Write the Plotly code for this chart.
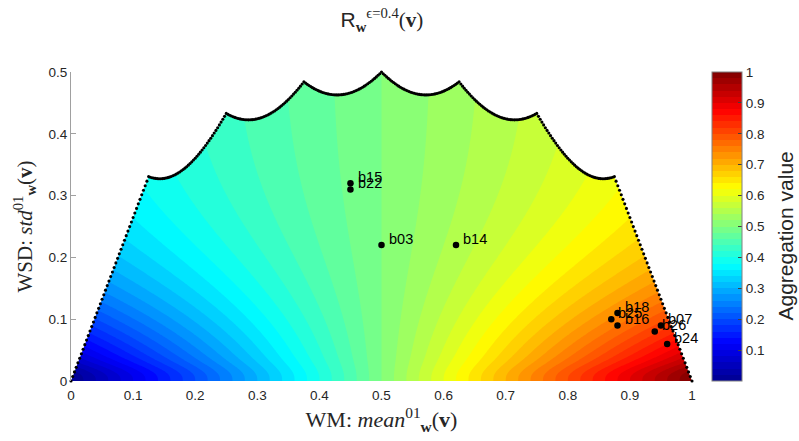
import numpy as np
import plotly.graph_objects as go

# ---------------- data ----------------
point_names = ["b15", "b22", "b03", "b14", "b18", "b25", "b16", "b07", "b26", "b24"]
point_wm = [0.45, 0.45, 0.50, 0.62, 0.88, 0.87, 0.88, 0.95, 0.94, 0.96]
point_wsd = [0.32, 0.31, 0.22, 0.22, 0.11, 0.10, 0.09, 0.09, 0.08, 0.06]

x_ticks = [0, 0.1, 0.2, 0.3, 0.4, 0.5, 0.6, 0.7, 0.8, 0.9, 1]
y_ticks = [0, 0.1, 0.2, 0.3, 0.4, 0.5]
cbar_ticks = [0.1, 0.2, 0.3, 0.4, 0.5, 0.6, 0.7, 0.8, 0.9, 1]

N_CRITERIA = 8          # equal weights -> cusps of the feasible (mean, std) region
PULL_MAX = 0.75         # maximal pull of the value towards 0.5
PULL_SCALE = 0.2        # std at which the pull approaches its maximum
DAMP_STD = 0.02         # smooth start of the pull near std = 0
PTS_PER_SEGMENT = 46    # boundary samples per segment

JET = [[0.0, "#00008f"], [0.125, "#0000ff"], [0.375, "#00ffff"],
       [0.625, "#ffff00"], [0.875, "#ff0000"], [1.0, "#800000"]]

# ---------------- feasible-region boundary ----------------
bx, by = [], []
t = np.linspace(0, 1, PTS_PER_SEGMENT)
for k in range(N_CRITERIA):
    m = (k + t) / N_CRITERIA
    var = (k + t ** 2) / N_CRITERIA - m ** 2
    s = np.sqrt(np.clip(var, 0, None))
    if k > 0:
        m, s = m[1:], s[1:]
    bx.extend(m.tolist())
    by.extend(s.tolist())

# ---------------- aggregation surface ----------------
gx = np.linspace(0, 1, 401)
gy = np.linspace(0, 0.5, 201)
M, S = np.meshgrid(gx, gy)
phi = PULL_MAX * np.tanh(S / PULL_SCALE) * (1 - np.exp(-(S / DAMP_STD) ** 2))
Z = M + (0.5 - M) * phi

fig = go.Figure()
fig.add_trace(go.Contour(
    x=gx, y=gy, z=Z, colorscale=JET, zmin=0, zmax=1,
    contours=dict(start=0, end=1, size=0.02, coloring="fill", showlines=False),
    line=dict(width=0),
    colorbar=dict(
        x=1.032, xanchor="left", xpad=0, y=0.5, yanchor="middle", ypad=0,
        len=1, lenmode="fraction", thickness=30, thicknessmode="pixels",
        outlinecolor="#808080", outlinewidth=1,
        tickvals=cbar_ticks, ticktext=[f"{v:g}" for v in cbar_ticks],
        ticks="inside", ticklen=4, tickcolor="#404040",
        tickfont=dict(family="Liberation Sans, Arial", size=13.5, color="#262626"),
    ),
    hoverinfo="skip",
))

# white mask outside the feasible region
mask_x = [-0.05] + bx + [1.05, 1.05, -0.05]
mask_y = [0.0] + by + [0.0, 0.6, 0.6]
fig.add_trace(go.Scatter(x=mask_x, y=mask_y, fill="toself", fillcolor="white",
                         mode="none", showlegend=False, hoverinfo="skip"))

# boundary dots
fig.add_trace(go.Scatter(x=bx, y=by, mode="markers",
                         marker=dict(color="black", size=3.1, line=dict(width=0)),
                         showlegend=False, cliponaxis=False, hoverinfo="skip"))

# alternatives
fig.add_trace(go.Scatter(x=point_wm, y=point_wsd, mode="markers",
                         marker=dict(color="black", size=6.5, line=dict(width=0)),
                         showlegend=False, cliponaxis=False))

for name, xv, yv in zip(point_names, point_wm, point_wsd):
    fig.add_annotation(x=xv + 0.01, y=yv + 0.01, text=name, showarrow=False,
                       xanchor="left", yanchor="middle", xshift=-1,
                       font=dict(family="Liberation Sans, Arial", size=14.5, color="black"))

# colour-bar label
fig.add_annotation(x=1.151, y=0.47, xref="paper", yref="paper", text="Aggregation value",
                   textangle=-90, showarrow=False, xanchor="center", yanchor="middle",
                   font=dict(family="Liberation Sans, Arial", size=21, color="#262626"))

serif = "Liberation Serif, Times New Roman, serif"
fig.update_layout(
    width=799, height=441,
    margin=dict(l=71, r=107, t=72, b=60),
    paper_bgcolor="white", plot_bgcolor="white",
    showlegend=False,
    title=dict(
        text='<span style="font-family:Liberation Sans">R</span><sub><b>w</b></sub>'
             '<sup>ϵ=0.4</sup>(<b>v</b>)',
        x=0.478, xanchor="center", y=0.955, yanchor="middle", yref="container",
        font=dict(family=serif, size=21, color="#262626")),
    xaxis=dict(range=[0, 1], tickvals=x_ticks, ticktext=[f"{v:g}" for v in x_ticks],
               showgrid=False, zeroline=False, showline=False, ticks="",
               ticklabelstandoff=4,
               tickfont=dict(family="Liberation Sans, Arial", size=13.5, color="#262626"),
               title=dict(text="WM: <i>mean</i><sup>01</sup><sub><b>w</b></sub>(<b>v</b>)",
                          font=dict(family=serif, size=22, color="#262626"), standoff=10)),
    yaxis=dict(range=[0, 0.5], tickvals=y_ticks, ticktext=[f"{v:g}" for v in y_ticks],
               showgrid=False, zeroline=False, showline=True, linecolor="#a0a0a0",
               linewidth=1, ticks="inside", ticklen=5, tickcolor="#a0a0a0",
               layer="above traces",
               tickfont=dict(family="Liberation Sans, Arial", size=13.5, color="#262626"),
               title=dict(text="WSD: <i>std</i><sup>01</sup><sub><b>w</b></sub>(<b>v</b>)",
                          font=dict(family=serif, size=21, color="#262626"), standoff=10)),
)

fig.write_html("out.html")
